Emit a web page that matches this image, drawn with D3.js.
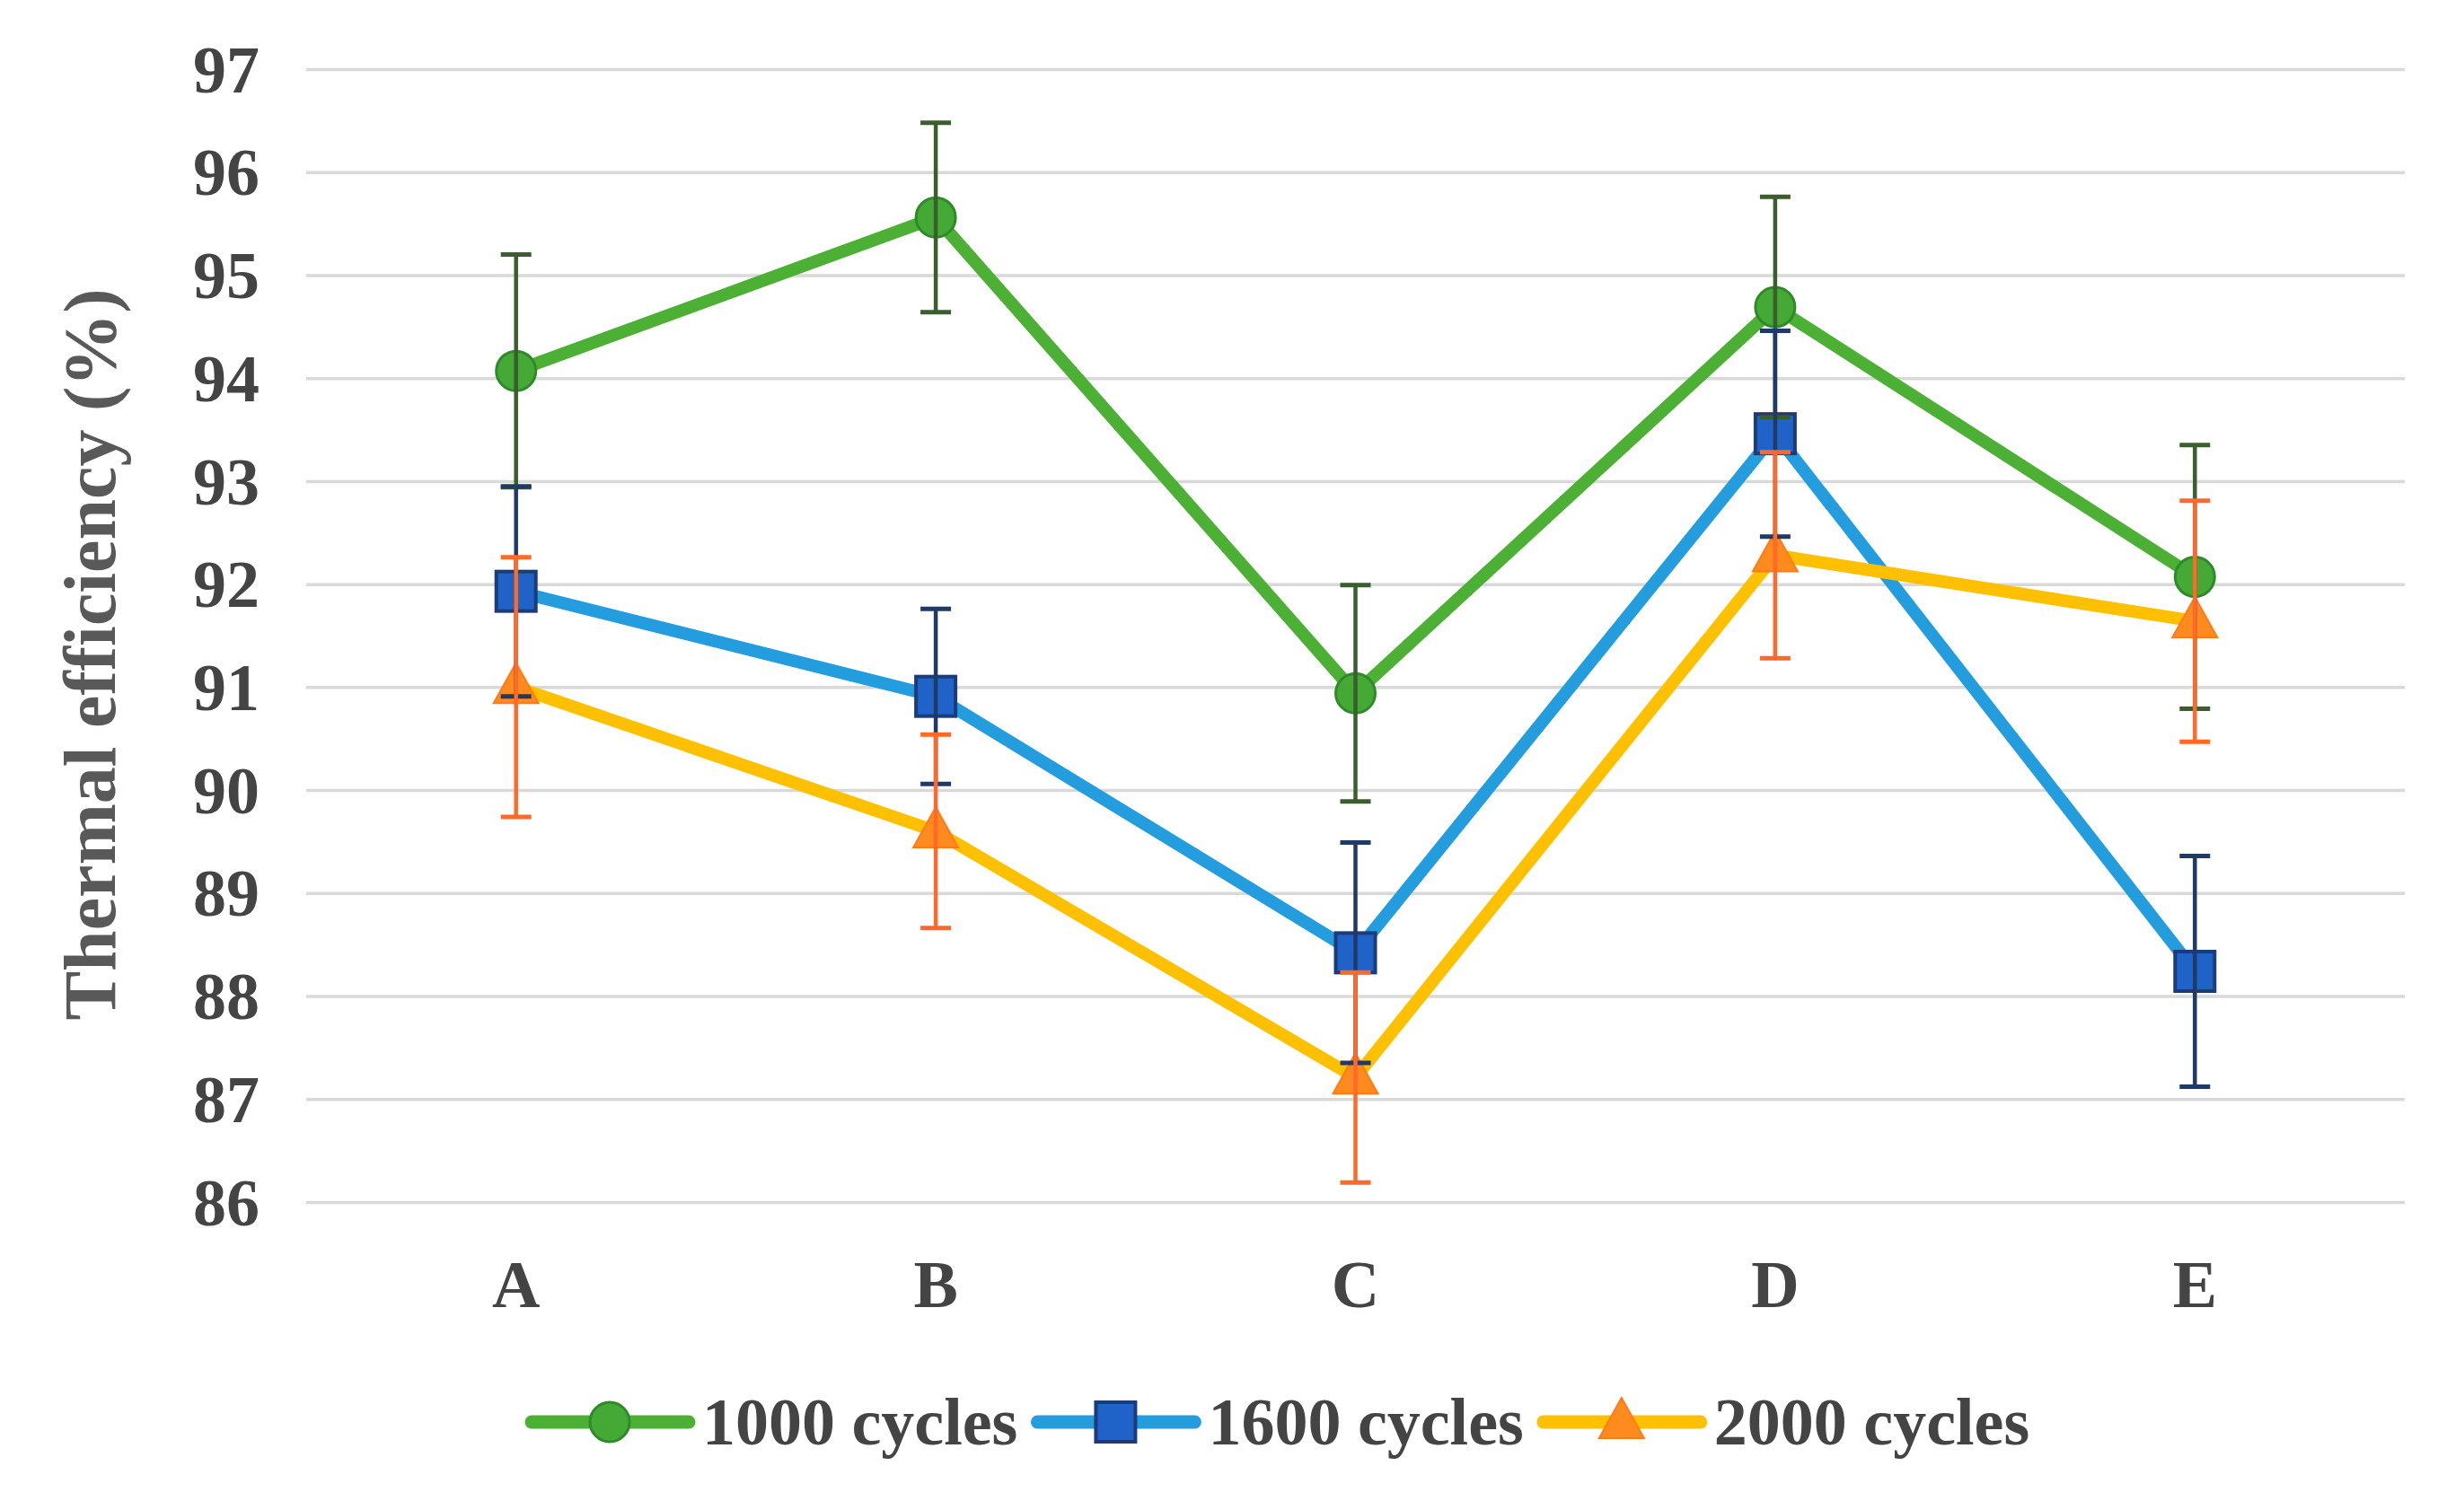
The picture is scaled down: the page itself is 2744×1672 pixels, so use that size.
<!DOCTYPE html>
<html>
<head>
<meta charset="utf-8">
<script src="https://cdn.jsdelivr.net/npm/d3@7"></script>
<style>
  html, body { margin: 0; padding: 0; background: #fff; }
  svg { display: block; }
</style>
</head>
<body>
<svg id="chart" width="2744" height="1672"></svg>
<script>
// ---- data ----
const categories = ["A", "B", "C", "D", "E"];
const seriesNames = ["1000 cycles", "1600 cycles", "2000 cycles"];
const values1000 = [94.07, 95.56, 90.94, 94.69, 92.07];
const errors1000 = [1.13, 0.92, 1.05, 1.07, 1.28];
const values1600 = [91.93, 90.91, 88.42, 93.46, 88.24];
const errors1600 = [1.02, 0.85, 1.07, 1.00, 1.12];
const values2000 = [91.00, 89.60, 87.21, 92.28, 91.64];
const errors2000 = [1.26, 0.94, 1.02, 1.00, 1.17];
const yTicks = [86, 87, 88, 89, 90, 91, 92, 93, 94, 95, 96, 97];
const yTitle = "Thermal efficiency (%)";

(function () {
// ---- styles ----
const styles = [
  { line: "#4CB034", fill: "#44A935", stroke: "#2F8A2A", err: "#3A5E2C", shape: "circle" },
  { line: "#239DDE", fill: "#1F63C9", stroke: "#1B3C78", err: "#1F3A66", shape: "square" },
  { line: "#FFC000", fill: "#FF8A1E", stroke: "#FF7A1A", err: "#FF6A2B", shape: "triangle" }
];
const series = [
  { name: seriesNames[0], values: values1000, errors: errors1000 },
  { name: seriesNames[1], values: values1600, errors: errors1600 },
  { name: seriesNames[2], values: values2000, errors: errors2000 }
];

const svg = d3.select("#chart");
const mLeft = 341, mRight = 2678, mTop = 77, mBottom = 1339;
const fontFam = "'Liberation Serif', 'Times New Roman', serif";
const textColor = "#444444";

const x = d3.scaleBand().domain(categories).range([mLeft, mRight]);
const y = d3.scaleLinear().domain([86, 97]).range([mBottom, mTop]);
const cx = d => x(d) + x.bandwidth() / 2;

// gridlines + y axis
const yAxis = d3.axisLeft(y).tickValues(yTicks).tickSize(-(mRight - mLeft)).tickPadding(52).tickFormat(d3.format("d"));
const gy = svg.append("g").attr("transform", `translate(${mLeft},0)`).call(yAxis);
gy.select(".domain").remove();
gy.selectAll(".tick line").attr("stroke", "#D9D9D9").attr("stroke-width", 3.5);
gy.selectAll(".tick text")
  .attr("font-family", fontFam).attr("font-weight", "bold").attr("font-size", 74)
  .attr("fill", textColor).attr("dy", "0.34em");

// x axis
const xAxis = d3.axisBottom(x).tickSize(0).tickPadding(0);
const gx = svg.append("g").attr("transform", `translate(0,${mBottom})`).call(xAxis);
gx.select(".domain").remove();
gx.selectAll(".tick text")
  .attr("font-family", fontFam).attr("font-weight", "bold").attr("font-size", 74)
  .attr("fill", textColor).attr("dy", 0).attr("y", 117);

// y title
svg.append("text")
  .attr("transform", `translate(100,729) rotate(-90)`)
  .attr("text-anchor", "middle").attr("dominant-baseline", "central")
  .attr("font-family", fontFam).attr("font-weight", "bold").attr("font-size", 82)
  .attr("fill", "#595959").text(yTitle);

// marker helper
function drawMarker(g, shape, px, py, st) {
  if (shape === "circle") {
    g.append("circle").attr("cx", px).attr("cy", py).attr("r", 22)
      .attr("fill", st.fill).attr("stroke", st.stroke).attr("stroke-width", 3);
  } else if (shape === "square") {
    g.append("rect").attr("x", px - 22).attr("y", py - 22).attr("width", 44).attr("height", 44)
      .attr("fill", st.fill).attr("stroke", st.stroke).attr("stroke-width", 4);
  } else {
    const s = 50, h = s * 0.9;
    g.append("path")
      .attr("d", `M${px},${py - h * 0.6}L${px + s / 2},${py + h * 0.4}L${px - s / 2},${py + h * 0.4}Z`)
      .attr("fill", st.fill).attr("stroke", st.stroke).attr("stroke-width", 2);
  }
}

const line = d3.line().x((d, i) => cx(categories[i])).y(d => y(d));
const gLines = svg.append("g");
series.forEach((s, k) => {
  const st = styles[k];
  gLines.append("path").datum(s.values).attr("d", line)
    .attr("fill", "none").attr("stroke", st.line).attr("stroke-width", 14)
    .attr("stroke-linejoin", "round").attr("stroke-linecap", "butt");
  s.values.forEach((v, i) => drawMarker(gLines, st.shape, cx(categories[i]), y(v), st));
});

// error bars on top
const gErr = svg.append("g");
series.forEach((s, k) => {
  const st = styles[k];
  s.values.forEach((v, i) => {
    const px = cx(categories[i]);
    const y1 = y(v + s.errors[i]), y0 = y(v - s.errors[i]);
    gErr.append("line").attr("x1", px).attr("x2", px).attr("y1", y1).attr("y2", y0)
      .attr("stroke", st.err).attr("stroke-width", 4.5);
    [y1, y0].forEach(yy => gErr.append("line").attr("x1", px - 17).attr("x2", px + 17)
      .attr("y1", yy).attr("y2", yy).attr("stroke", st.err).attr("stroke-width", 5));
  });
});

// legend
const legY = 1584;
let lx = 592;
const gLeg = svg.append("g");
series.forEach((s, k) => {
  const st = styles[k];
  gLeg.append("line").attr("x1", lx).attr("x2", lx + 175).attr("y1", legY).attr("y2", legY)
    .attr("stroke", st.line).attr("stroke-width", 15).attr("stroke-linecap", "round");
  drawMarker(gLeg, st.shape, lx + 87, legY, st);
  const t = gLeg.append("text").attr("x", lx + 190).attr("y", legY).attr("dy", "0.34em")
    .attr("font-family", fontFam).attr("font-weight", "bold").attr("font-size", 74)
    .attr("fill", textColor).text(s.name);
  const w = t.node().getComputedTextLength();
  lx = lx + 190 + w + 22;
});
})();
</script>
</body>
</html>
